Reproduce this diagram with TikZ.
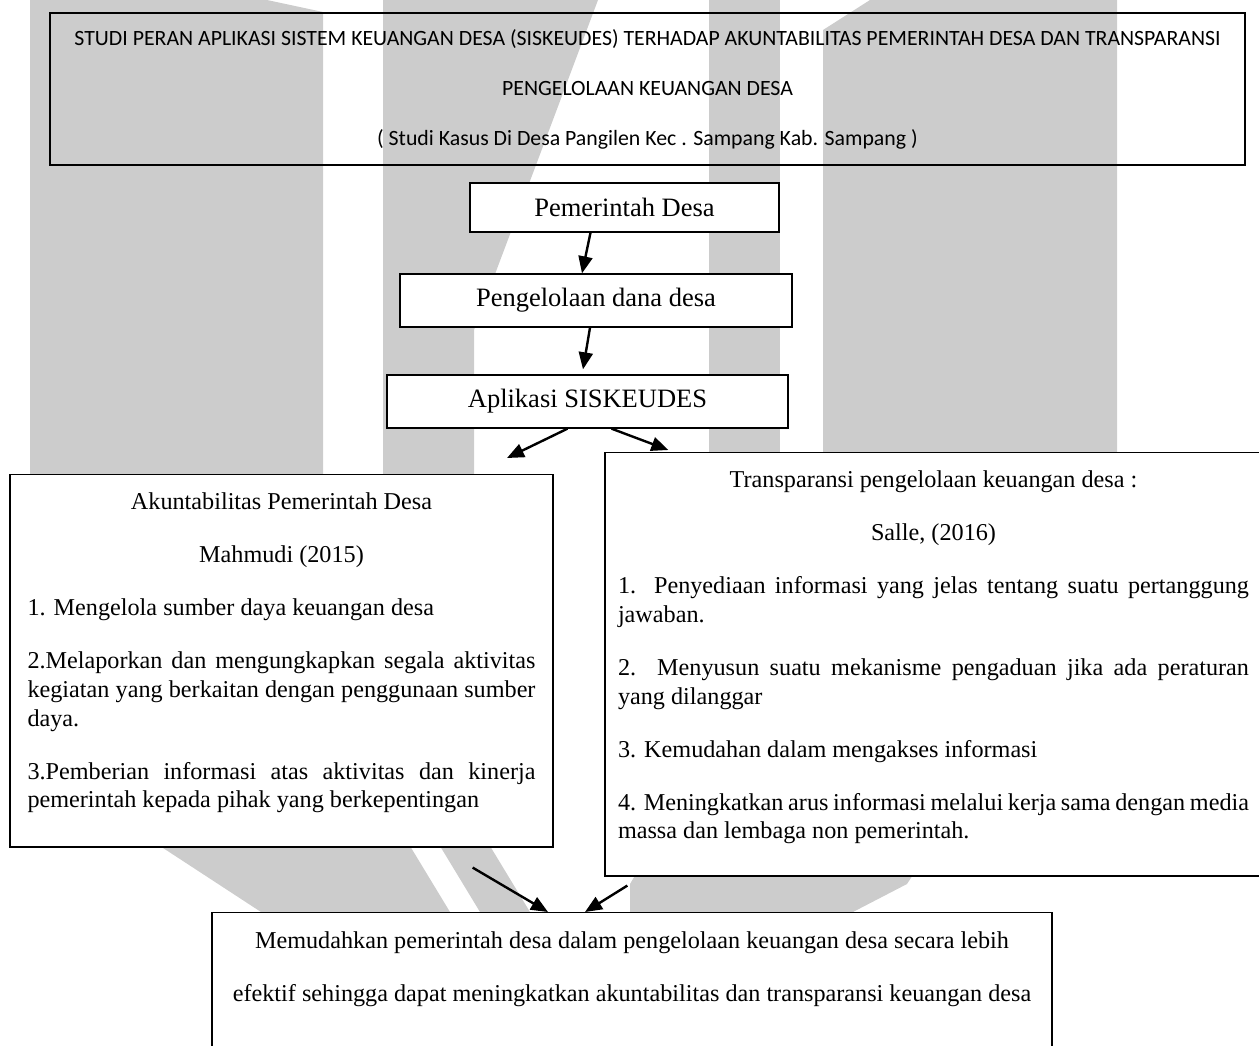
\documentclass[tikz,border=0pt]{standalone}
\usepackage{fontspec}
\setmainfont{Liberation Serif}
\newfontfamily\calibrifont{Carlito}
\usetikzlibrary{positioning,arrows.meta}
\definecolor{LogoGray}{RGB}{204,204,204}
\newcommand{\listsetup}{\setlength{\parskip}{24.4pt}\hyphenpenalty=10000\relax\exhyphenpenalty=10000\relax}

\begin{document}
\begin{tikzpicture}[x=1pt, y=-1pt,
    every node/.style={font=\fontsize{24.2}{28.6}\selectfont}]
  \tikzset{
    box/.style={draw, line width=1.3pt, fill=white, inner sep=0pt, align=center},
    stepbox/.style={box, font=\fontsize{26.5}{30}\selectfont},
    listbox/.style={box, align=justify, anchor=north, inner ysep=18.5pt},
    titlebox/.style={draw, line width=2pt, inner sep=0pt, align=center,
      font=\calibrifont\fontsize{21.8}{50}\selectfont},
    flow/.style={-{Triangle[length=17pt,width=14pt]}, line width=2.4pt},
    logo/.style={fill=LogoGray, draw=none}
  }
  \useasboundingbox (0,0) rectangle (1259,1046);
  \clip (0,0) rectangle (1259,1046);
  % watermark behind the diagram
  \fill[logo] (30,0) -- (267,0) -- (323,12) -- (323,560) -- (410,846) -- (450,912)
    -- (600,1000) -- (480,1000) -- (261,912) -- (160,846) -- (30,560) -- cycle;
  \fill[logo] (377,0) -- (598,0) -- (474,330) -- (474,560) -- (490,846) -- (530,912)
    -- (480,912) -- (440,846) -- (383,560) -- (383,0) -- cycle;
  \fill[logo] (709,0) rectangle (780,600);
  \fill[logo] (870,0) -- (1117,0) -- (1117,560) -- (907,884) -- (853,912) -- (630,912)
    -- (630,884) -- (823,560) -- (823,30) -- cycle;

  \node[titlebox, minimum width=1195pt, minimum height=152pt] (title) at (647.5,89)
    {STUDI PERAN APLIKASI SISTEM KEUANGAN DESA (SISKEUDES) TERHADAP AKUNTABILITAS PEMERINTAH DESA DAN TRANSPARANSI\\
     PENGELOLAAN KEUANGAN DESA\\
     ( Studi Kasus Di Desa Pangilen Kec . Sampang Kab. Sampang )};
  \node[stepbox, minimum width=309pt, minimum height=49pt] (pemdes) at (624.5,207.5) {Pemerintah Desa};
  \node[stepbox, minimum width=392pt, minimum height=53pt] (kelola) at (596,300.5) {Pengelolaan dana desa};
  \node[stepbox, minimum width=401pt, minimum height=53pt] (siskeudes) at (587.5,401.5) {Aplikasi SISKEUDES};

  \node[listbox, text width=508pt, inner xsep=17.5pt, text depth=318.5pt] (akun) at (281.5,474)
    {\listsetup
     {\centering Akuntabilitas Pemerintah Desa\par Mahmudi (2015)\par}
     1. Mengelola sumber daya keuangan desa\par
     2.Melaporkan dan mengungkapkan segala aktivitas\linebreak kegiatan yang berkaitan dengan penggunaan sumber\linebreak daya.\par
     3.Pemberian informasi atas aktivitas dan kinerja\linebreak pemerintah kepada pihak yang berkepentingan};
  \node[listbox, text width=631pt, inner xsep=13pt, text depth=369.5pt] (trans) at (933.5,452)
    {\listsetup
     {\centering Transparansi pengelolaan keuangan desa :\par Salle, (2016)\par}
     1. Penyediaan informasi yang jelas tentang suatu pertanggung\linebreak jawaban.\par
     2. Menyusun suatu mekanisme pengaduan jika ada peraturan\linebreak yang dilanggar\par
     3. Kemudahan dalam mengakses informasi\par
     4. Meningkatkan arus informasi melalui kerja sama dengan media\linebreak massa dan lembaga non pemerintah.};

  \node[box, anchor=north, minimum width=840pt, inner ysep=19.5pt,
    font=\fontsize{24.2}{53}\selectfont] (hasil) at (632,912)
    {Memudahkan pemerintah desa dalam pengelolaan keuangan desa secara lebih\\
     efektif sehingga dapat meningkatkan akuntabilitas dan transparansi keuangan desa\\
     \mbox{}};

  \coordinate (akuntop) at (507,458);
  \draw[flow] ([xshift=-34pt]pemdes.south) -- ([xshift=-14pt]kelola.north);
  \draw[flow] ([xshift=-6pt]kelola.south) -- ([xshift=-4.5pt,yshift=5pt]siskeudes.north);
  \draw[flow] ([xshift=-20pt]siskeudes.south) -- (akuntop);
  \draw[flow] ([xshift=24pt]siskeudes.south) -- ([xshift=64pt,yshift=2pt]trans.north west);
  \draw[flow] ([xshift=-81pt,yshift=-20pt]akun.south east) -- ([xshift=-84pt]hasil.north);
  \draw[flow] ([xshift=23pt,yshift=-9pt]trans.south west) -- ([xshift=-47pt]hasil.north);
\end{tikzpicture}
\end{document}
